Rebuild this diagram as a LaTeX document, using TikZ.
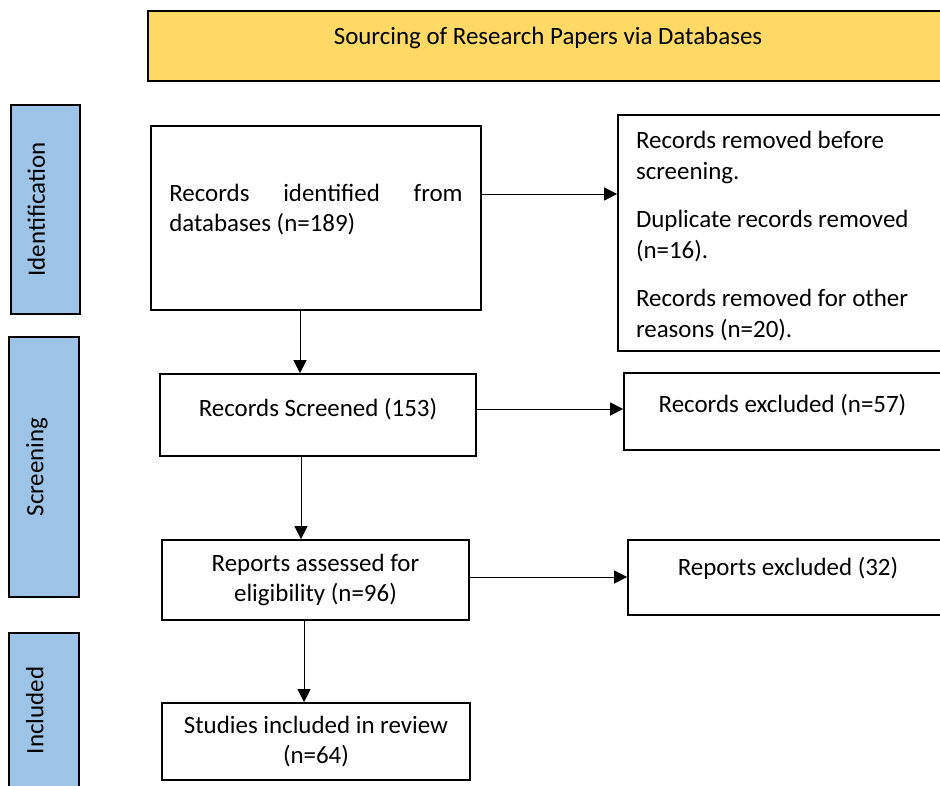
\documentclass[tikz,border=0pt]{standalone}
\usepackage{fontspec}
\setmainfont{Carlito}
\usetikzlibrary{arrows.meta}
\definecolor{titleyellow}{HTML}{FFD966}
\definecolor{phaseblue}{HTML}{9DC3E6}
\tikzset{
    box/.style={draw=black,line width=1.3pt,fill=white,inner sep=0pt,
        font=\fontsize{18.7}{22.9}\selectfont},
    phase/.style={box,fill=phaseblue,rotate=90,minimum height=52pt,
        text height=25.5pt,text depth=26.5pt},
    arr/.style={-{Triangle[length=9.75pt,width=9.75pt]},line width=0.75pt}
}
\begin{document}
\begin{tikzpicture}[x=0.75pt,y=-0.75pt]
    \useasboundingbox (0,0) rectangle (940,786);
    \clip (0,0) rectangle (940,786);
    % heading
    \node[box,fill=titleyellow,minimum width=600pt,minimum height=52.5pt,
        text height=25pt,text depth=27.5pt] (title) at (548,46)
        {Sourcing of Research Papers via Databases};
    % phases
    \node[phase,minimum width=156.75pt] (idn) at (45.5,209.5) {Identification};
    \node[phase,minimum width=195pt] (scn) at (44,467) {Screening};
    \node[phase,minimum width=116.25pt] (incl) at (44,710.5) {Included};
    % main column
    \node[box,minimum width=247.5pt,minimum height=138pt,text width=220pt,align=flush left]
        (rid) at (316,218)
        {\hbox to 220pt{Records\hfill identified\hfill from}\\databases (n=189)\rule[-15pt]{0pt}{0pt}};
    \node[box,minimum width=237pt,minimum height=61.5pt,text height=31.9pt,text depth=29.6pt]
        (scr) at (318,415) {Records Screened (153)};
    \node[box,minimum width=230.25pt,minimum height=60pt,align=center]
        (ra) at (315.5,580) {Reports assessed for\\eligibility (n=96)};
    \node[box,minimum width=231pt,minimum height=57.75pt,align=center]
        (inc) at (316,741.5) {Studies included in review\\(n=64)};
    % side column
    \node[box,minimum width=249pt,minimum height=177pt,text width=222pt,align=flush left]
        (rem) at (784,233)
        {\rule{0pt}{17.8pt}Records removed before\\screening.\\[13.5pt]Duplicate records removed\\(n=16).\\[13.5pt]Records removed for other\\reasons (n=20).};
    \node[box,minimum width=237.75pt,minimum height=57.75pt,text height=29.6pt,text depth=28.1pt]
        (exc) at (782.5,411.5) {Records excluded (n=57)};
    \node[box,minimum width=240pt,minimum height=56.25pt,text height=26.6pt,text depth=29.6pt]
        (rex) at (788,577.5) {Reports excluded (32)};
    % arrows
    \draw[arr] ([yshift=18pt]rid.east) -- ([yshift=18pt]rid.east -| rem.west);
    \draw[arr] ([xshift=-12pt]rid.south) -- ([xshift=-12pt]rid.south |- scr.north);
    \draw[arr] ([yshift=4.5pt]scr.east) -- ([yshift=4.5pt]scr.east -| exc.west);
    \draw[arr] ([xshift=-12.75pt]scr.south) -- ([xshift=-12.75pt]scr.south |- ra.north);
    \draw[arr] ([yshift=2.25pt]ra.east) -- ([yshift=2.25pt]ra.east -| rex.west);
    \draw[arr] ([xshift=-8.6pt]ra.south) -- ([xshift=-8.6pt]ra.south |- inc.north);
\end{tikzpicture}
\end{document}
